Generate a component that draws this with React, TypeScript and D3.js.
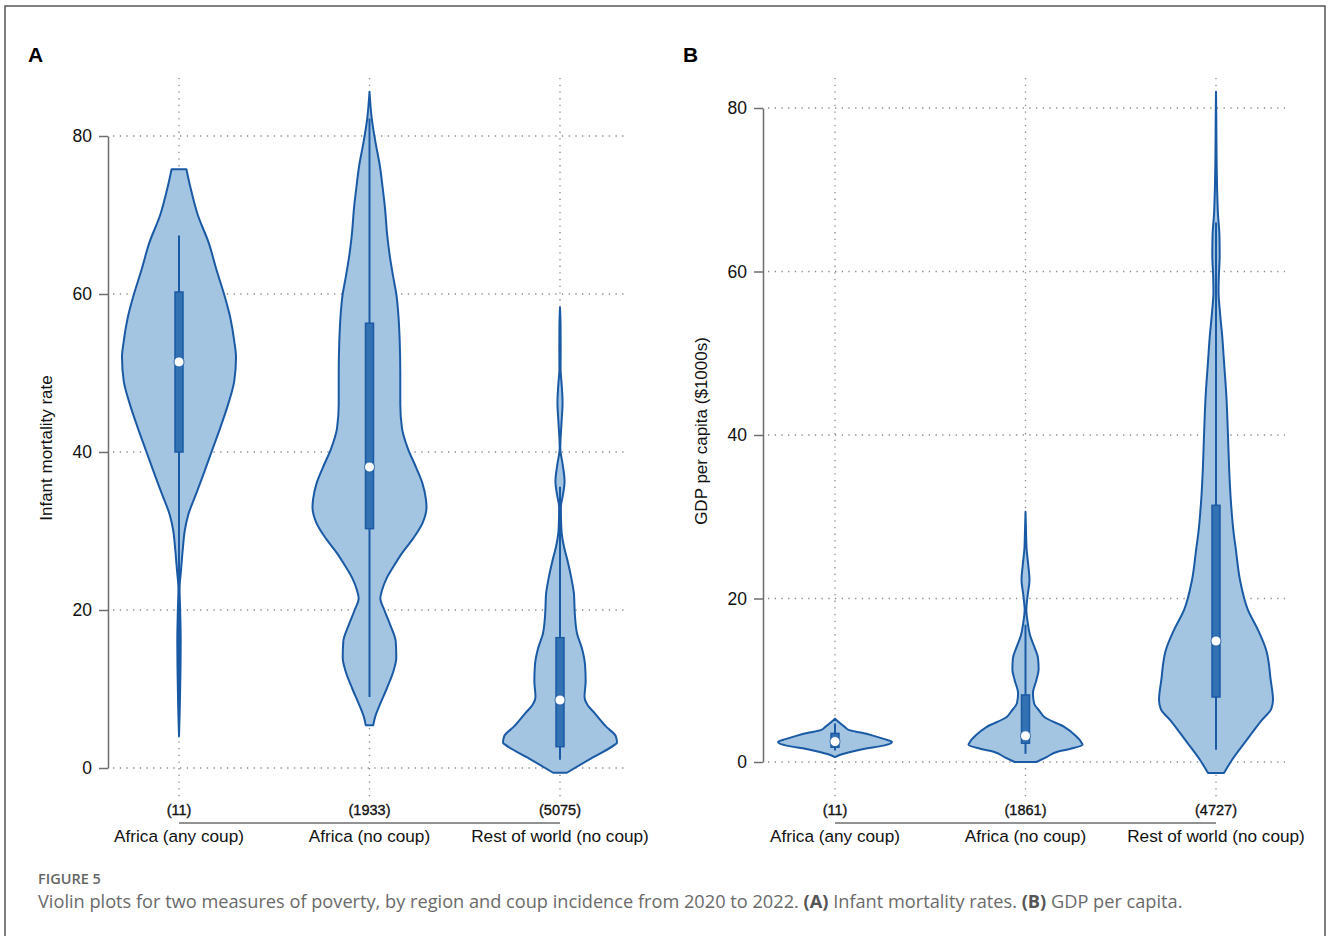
import React, { useEffect, useRef } from "react";
import * as d3 from "d3";

// groups and sample sizes
const categories = ["Africa (any coup)", "Africa (no coup)", "Rest of world (no coup)"];
const countsMortality = [11, 1933, 5075];
const countsGdp = [11, 1861, 4727];
const yTicks = [0, 20, 40, 60, 80];

// violin outlines: [value, relative density (1 = widest)]
const mortalityAnyCoup: [number, number][] = [
  [75.8, 0.13], [73.5, 0.2], [70, 0.33], [66.5, 0.52], [63, 0.66], [60, 0.79], [57, 0.9],
  [54, 0.97], [52, 1.0], [49, 0.97], [46, 0.86], [43, 0.72], [40, 0.57], [37, 0.42],
  [34.7, 0.3], [32, 0.16], [30, 0.1], [28, 0.07], [25, 0.035], [22.7, 0.01], [20, 0.02],
  [16, 0.03], [12, 0.025], [8, 0.015], [4, 0],
];
const mortalityNoCoup: [number, number][] = [
  [85.6, 0], [82.2, 0.04], [79, 0.11], [76.3, 0.18], [73.5, 0.23], [71, 0.27], [67.5, 0.31],
  [64.6, 0.36], [62, 0.42], [60, 0.47], [57, 0.51], [54, 0.53], [50, 0.54], [46, 0.54],
  [43, 0.57], [40.5, 0.67], [38, 0.82], [36, 0.93], [34, 0.99], [33, 1.0], [31, 0.93],
  [29, 0.76], [27.3, 0.58], [25.5, 0.42], [24, 0.3], [22.5, 0.22], [21.5, 0.19], [20, 0.26],
  [18, 0.37], [16, 0.46], [14, 0.47], [12.5, 0.43], [10, 0.3], [8, 0.18], [6.5, 0.1], [5.4, 0.065],
];
const mortalityRest: [number, number][] = [
  [58.3, 0], [56, 0.01], [53, 0.012], [50.5, 0.01], [48.5, 0.03], [46.3, 0.045], [43.5, 0.025],
  [40.5, 0.005], [38.5, 0.045], [36.3, 0.08], [34.5, 0.05], [33, 0.015], [31, 0.02], [29.7, 0.03],
  [28, 0.07], [26.3, 0.13], [24, 0.2], [22, 0.245], [19.5, 0.26], [17, 0.3], [15, 0.39],
  [13, 0.44], [11, 0.45], [9, 0.43], [8, 0.48], [7, 0.6], [5.3, 0.8], [4, 0.98], [3.2, 1.0],
  [2.9, 0.95], [1.2, 0.54], [-0.6, 0.12],
];
const gdpAnyCoup: [number, number][] = [
  [5.3, 0], [4.8, 0.08], [4.3, 0.17], [3.9, 0.25], [3.6, 0.45], [3.2, 0.68], [2.8, 0.87],
  [2.45, 1.0], [2.0, 0.85], [1.6, 0.5], [1.2, 0.25], [0.8, 0.06], [0.6, 0],
];
const gdpNoCoup: [number, number][] = [
  [30.6, 0], [28, 0.01], [26, 0.02], [24, 0.05], [22.3, 0.07], [20.5, 0.04], [18.6, 0.015],
  [17, 0.04], [15.5, 0.08], [14, 0.16], [12.7, 0.22], [11.3, 0.23], [10, 0.19], [8.4, 0.13],
  [7.2, 0.15], [6.2, 0.25], [5.5, 0.33], [4.3, 0.68], [3.2, 0.88], [2.4, 0.98], [2.1, 1.0],
  [1.6, 0.78], [1.26, 0.56], [0.6, 0.37], [0, 0.19],
];
const gdpRest: [number, number][] = [
  [82, 0], [79, 0.005], [74, 0.01], [70, 0.02], [67, 0.035], [64.5, 0.06], [62, 0.065],
  [59.5, 0.05], [57.5, 0.045], [55, 0.07], [52, 0.11], [49, 0.14], [45, 0.18], [40, 0.21],
  [36, 0.23], [32, 0.26], [28, 0.31], [25.9, 0.35], [22.3, 0.42], [18.6, 0.56], [16.1, 0.74],
  [13.7, 0.88], [10, 0.96], [7.6, 1.0], [6.5, 0.97], [5.1, 0.8], [2.7, 0.54], [0.25, 0.28],
  [-1.35, 0.14],
];

// box plot summaries, one per group
const mortalityQ1 = [40.0, 30.3, 2.7];
const mortalityMedian = [51.4, 38.1, 8.6];
const mortalityQ3 = [60.25, 56.3, 16.5];
const mortalityLow = [5, 9.0, 1.05];
const mortalityHigh = [67.4, 82.2, 35.6];

const gdpQ1 = [1.8, 2.3, 7.95];
const gdpMedian = [2.5, 3.2, 14.8];
const gdpQ3 = [3.5, 8.2, 31.4];
const gdpLow = [1.4, 1.0, 1.5];
const gdpHigh = [4.7, 16.8, 66];

const FILL = "#a4c5e2";
const LINE = "#1a5aa5";
const BOX = "#3372b2";
const FONT = "'Liberation Sans', Arial, Helvetica, sans-serif";

function Panel(props: any) {
  const { letter, title, axisX, yTop, yBottom, x0, x1, gridRight, violins, counts, q1, med, q3, lo, hi } = props;
  const axisRef = useRef<SVGGElement>(null);

  const y = d3.scaleLinear().domain([0, 80]).range([yBottom, yTop]);
  const x = d3.scalePoint<string>().domain(categories).range([x0, x1]);
  const w = d3.scaleLinear().domain([0, 1]).range([0, 57]);

  useEffect(() => {
    const g = d3.select(axisRef.current);
    g.selectAll("*").remove();
    g.call(d3.axisLeft(y).tickValues(yTicks).tickSize(9).tickSizeOuter(0).tickPadding(7));
    g.select(".domain").attr("stroke", "#6e6e6e").attr("stroke-width", 1.5);
    g.selectAll(".tick line").attr("stroke", "#6e6e6e").attr("stroke-width", 1.5);
    g.selectAll(".tick text")
      .attr("fill", "#111")
      .style("font-size", "17.5px")
      .style("font-family", FONT);
  }, []);

  return (
    <g>
      <text x={letter === "A" ? 28 : 683} y={62} fontFamily={FONT} fontWeight="bold" fontSize={21} fill="#000">
        {letter}
      </text>
      {yTicks.map((t) => (
        <line key={"h" + t} x1={axisX + 5} x2={gridRight} y1={y(t)} y2={y(t)}
          stroke="#8a8a8a" strokeWidth={1.3} strokeDasharray="1.3 5.4" />
      ))}
      {categories.map((c) => (
        <line key={"v" + c} x1={x(c)} x2={x(c)} y1={78} y2={797}
          stroke="#8a8a8a" strokeWidth={1.3} strokeDasharray="1.3 5.4" />
      ))}
      <g ref={axisRef} transform={`translate(${axisX},0)`} />
      <text transform={`translate(${axisX - 62},${(yTop + yBottom) / 2 - 4}) rotate(-90)`} dy="0.35em"
        textAnchor="middle" fontFamily={FONT} fontSize={17} fill="#111">
        {title}
      </text>
      {violins.map((v: [number, number][], i: number) => {
        const cx = x(categories[i]) as number;
        const area = d3.area<[number, number]>()
          .y((d) => y(d[0]))
          .x0((d) => cx - w(d[1]))
          .x1((d) => cx + w(d[1]))
          .curve(d3.curveMonotoneY);
        return (
          <g key={i}>
            <path d={area(v) || ""} fill={FILL} stroke={LINE} strokeWidth={2} strokeLinejoin="round" />
            <line x1={cx} x2={cx} y1={y(lo[i])} y2={y(hi[i])} stroke={LINE} strokeWidth={2} />
            <rect x={cx - 4} width={8} y={y(q3[i])} height={y(q1[i]) - y(q3[i])} fill={BOX} stroke={LINE} strokeWidth={1.5} />
            <circle cx={cx} cy={y(med[i])} r={5} fill="#fff" stroke={LINE} strokeWidth={0.8} />
          </g>
        );
      })}
      {categories.map((c, i) => (
        <text key={"n" + c} x={x(c)} y={815} textAnchor="middle" fontFamily={FONT} fontSize={14.5}
          fill="#111" stroke="#111" strokeWidth={0.35}>
          ({counts[i]})
        </text>
      ))}
      <line x1={x0} x2={x1} y1={823} y2={823} stroke="#6e6e6e" strokeWidth={1.5} />
      {categories.map((c) => (
        <text key={"c" + c} x={x(c)} y={842} textAnchor="middle" fontFamily={FONT} fontSize={17.2} fill="#111">
          {c}
        </text>
      ))}
    </g>
  );
}

export default function App() {
  return (
    <svg width={1328} height={936} style={{ position: "absolute", left: 0, top: 0, background: "#fff" }}>
      <rect x={5} y={6} width={1320} height={960} fill="#fff" stroke="#555" strokeWidth={1.5} />
      <Panel letter="A" title="Infant mortality rate" axisX={108} yTop={136} yBottom={768}
        x0={179} x1={560} gridRight={628}
        violins={[mortalityAnyCoup, mortalityNoCoup, mortalityRest]} counts={countsMortality}
        q1={mortalityQ1} med={mortalityMedian} q3={mortalityQ3} lo={mortalityLow} hi={mortalityHigh} />
      <Panel letter="B" title="GDP per capita ($1000s)" axisX={763} yTop={108} yBottom={762}
        x0={835} x1={1216} gridRight={1285}
        violins={[gdpAnyCoup, gdpNoCoup, gdpRest]} counts={countsGdp}
        q1={gdpQ1} med={gdpMedian} q3={gdpQ3} lo={gdpLow} hi={gdpHigh} />
      <text x={38} y={884} fontFamily="'Open Sans', sans-serif" fontSize={14.5} fontWeight={600} fill="#666">
        FIGURE 5
      </text>
      <text x={38} y={908} fontFamily="'Open Sans', sans-serif" fontSize={18.2} fill="#6a6a6a">
        Violin plots for two measures of poverty, by region and coup incidence from 2020 to 2022.{" "}
        <tspan fontWeight="bold" fill="#555">(A)</tspan> Infant mortality rates.{" "}
        <tspan fontWeight="bold" fill="#555">(B)</tspan> GDP per capita.
      </text>
    </svg>
  );
}
